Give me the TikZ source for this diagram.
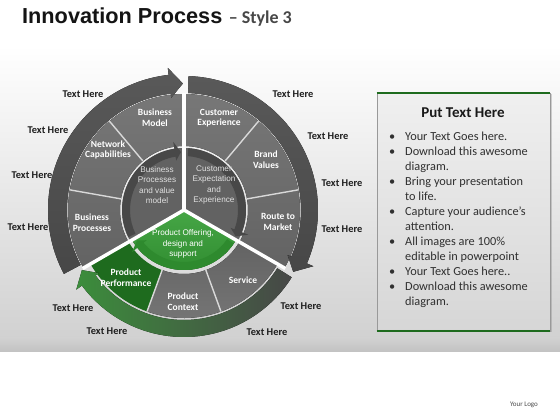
\documentclass[tikz,border=0pt]{standalone}
\usepackage{fontspec}
\setmainfont{Carlito}
\newfontfamily\arialfont{Liberation Sans}
\usetikzlibrary{shadows}

\definecolor{rimgray}{HTML}{595959}
\definecolor{rimdark}{HTML}{474747}
\definecolor{seggray}{HTML}{777777}
\definecolor{segdark}{HTML}{636363}
\definecolor{hubgray}{HTML}{626262}
\definecolor{ringgray}{HTML}{484848}
\definecolor{leafgreen}{HTML}{46A646}
\definecolor{midgreen}{HTML}{2E8A2E}
\definecolor{darkgreen}{HTML}{1E6B1E}
\definecolor{bodytext}{HTML}{303030}

\tikzset{
  texthere/.style={font=\bfseries\fontsize{10.4}{12}\selectfont, text=black!88, inner sep=0},
  seglabel/.style={font=\bfseries\fontsize{9.5}{10.7}\selectfont, text=white, align=center, inner sep=0},
  hublabel/.style={font=\arialfont\fontsize{8.2}{10.3}\selectfont, text=black!12, align=center, inner sep=0},
  gapline/.style={white, line width=3.5},
  segline/.style={white!85!black, line width=1.4},
  panel/.style={draw=black!40, line width=0.8, top color=black!6, bottom color=black!16,
    minimum width=173, minimum height=238, inner sep=0,
    drop shadow={shadow xshift=1.5pt, shadow yshift=-1.5pt, opacity=0.35}},
}

% ring piece between two radii
\newcommand\annulus[5]{%
  \fill[#1] ({#2}:#4) arc[start angle={#2}, end angle={#3}, radius=#4]
    -- ({#3}:#5) arc[start angle={#3}, end angle={#2}, radius=#5] -- cycle;}
% curved band ending in an arrow head (clockwise)
\newcommand\arrowband[6]{%
  \fill[#1] ({#2}:#5) arc[start angle={#2}, end angle={#3+#6}, radius=#5]
    -- ({#3+#6}:{#5+7}) -- ({#3}:{(#4+#5)/2}) -- ({#3+#6}:{#4-4})
    -- ({#3+#6}:#4) arc[start angle={#3+#6}, end angle={#2}, radius=#4] -- cycle;}

\begin{document}
\begin{tikzpicture}[x=1pt, y=1pt]
  \useasboundingbox (0,0) rectangle (560,420);
  \fill[white] (0,0) rectangle (560,420);
  \shade[top color=white, bottom color=black!18] (0,375) rectangle (560,82);
  \shade[top color=black!18, bottom color=black!24] (0,82) rectangle (560,68);

  % title
  \node[anchor=base west, inner sep=0, font=\arialfont\bfseries\fontsize{21.7}{24}\selectfont, text=black!92] (title) at (22,396) {Innovation Process};
  \node[anchor=base west, inner sep=0, font=\bfseries\fontsize{18}{20}\selectfont, text=black!72] (subtitle) at ([xshift=6]title.base east) {– Style 3};

  % wheel
  \begin{scope}[shift={(184,210)}]
    % segments
    \annulus{top color=seggray, bottom color=segdark}{90}{210}{64}{116}
    \annulus{top color=seggray, bottom color=segdark}{-30}{90}{64}{116}
    \annulus{darkgreen}{210}{250}{64}{108}
    \annulus{top color=segdark, bottom color=seggray}{250}{330}{64}{108}
    % hubs
    \fill[hubgray] (0,0) -- (90:62) arc[start angle=90, end angle=210, radius=62] -- cycle;
    \fill[hubgray] (0,0) -- (-30:62) arc[start angle=-30, end angle=90, radius=62] -- cycle;
    \fill[top color=leafgreen, bottom color=midgreen] (0,0) -- (210:60) arc[start angle=210, end angle=330, radius=60] -- cycle;
    \arrowband{ringgray}{206}{93}{54}{62}{6}
    \arrowband{ringgray}{86}{-27}{54}{62}{6}
    \arrowband{midgreen}{326}{213}{52}{60}{6}
    % gaps
    \draw[gapline] (0,0) -- (90:117);
    \draw[gapline] (0,0) -- (-30:117);
    \draw[gapline] (0,0) -- (210:117);
    \foreach \a in {130,170,50,10}
      \draw[segline] (\a:64) -- (\a:116);
    \foreach \a in {250,290}
      \draw[segline] (\a:62) -- (\a:108);
    % rims
    \arrowband{top color=rimgray, bottom color=rimdark}{208}{90.5}{117}{136}{6}
    \arrowband{top color=rimgray, bottom color=rimdark}{88}{-29.5}{117}{134}{6}
    \arrowband{left color=leafgreen!85!black, right color=rimdark}{328}{210.5}{110}{127}{6}
  \end{scope}

  % segment labels
  \node[seglabel] (bmodel) at (155,302) {Business\\Model};
  \node[seglabel] (netcap) at (108,270) {Network\\Capabilities};
  \node[seglabel] (bproc) at (92,197) {Business\\Processes};
  \node[seglabel] (cexp) at (219,302) {Customer\\Experience};
  \node[seglabel] (brand) at (266,260) {Brand\\Values};
  \node[seglabel] (route) at (278,198) {Route to\\Market};
  \node[seglabel] (pperf) at (126,142) {Product\\Performance};
  \node[seglabel] (pcont) at (183,118) {Product\\Context};
  \node[seglabel] (service) at (243,140) {Service};
  % hub labels
  \node[hublabel] (hubleft) at (157,235) {Business\\Processes\\and value\\model};
  \node[hublabel] (hubright) at (214,235) {Customer\\Expectation\\and\\Experience};
  \node[hublabel, text=white] (hubbottom) at (183,176) {Product Offering,\\design and\\support};

  % outer labels
  \node[texthere] (th1) at (83,326) {Text Here};
  \node[texthere] (th2) at (48,290) {Text Here};
  \node[texthere] (th3) at (32,245) {Text Here};
  \node[texthere] (th4) at (28,193) {Text Here};
  \node[texthere] (th5) at (293,326) {Text Here};
  \node[texthere] (th6) at (328,284) {Text Here};
  \node[texthere] (th7) at (342,237) {Text Here};
  \node[texthere] (th8) at (342,191) {Text Here};
  \node[texthere] (th9) at (73,112) {Text Here};
  \node[texthere] (th10) at (107,89) {Text Here};
  \node[texthere] (th11) at (301,114) {Text Here};
  \node[texthere] (th12) at (267,88) {Text Here};

  % text panel
  \node[panel] (panel) at (463.5,208) {};
  \draw[darkgreen, line width=2] (panel.north west) -- (panel.north east);
  \draw[darkgreen, line width=2] (panel.south west) -- (panel.south east);
  \node[font=\bfseries\fontsize{15}{18}\selectfont, text=black!90, inner sep=0] (ptitle) at (463,307) {Put Text Here};
  \node[anchor=north west, inner sep=0, text=bodytext, font=\fontsize{12.3}{15}\selectfont] (plist) at (389,290.5) {%
    \begin{tabular}{@{}p{16pt}@{}p{135pt}@{}}
      • & Your Text Goes here.\\
      • & Download this awesome\newline diagram.\\
      • & Bring your presentation\newline to life.\\
      • & Capture your audience’s\newline attention.\\
      • & All images are 100\%\newline editable in powerpoint\\
      • & Your Text Goes here..\\
      • & Download this awesome\newline diagram.\\
    \end{tabular}};

  \node[font=\fontsize{7}{8}\selectfont, text=black!70, inner sep=0] (logo) at (524,15) {Your Logo};
\end{tikzpicture}
\end{document}
